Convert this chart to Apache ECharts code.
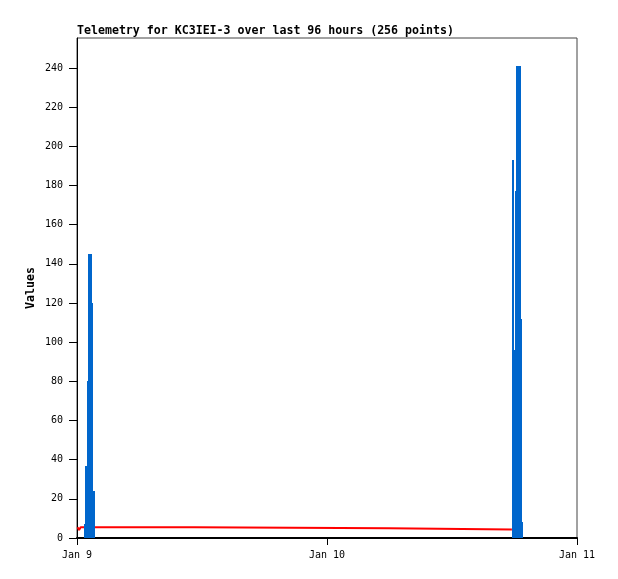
<!DOCTYPE html>
<html>
<head>
<meta charset="utf-8">
<script src="https://cdn.jsdelivr.net/npm/echarts@6/dist/echarts.min.js"></script>
<style>html,body{margin:0;padding:0;background:#fff}#c{width:618px;height:579px}</style>
</head>
<body>
<div id="c"></div>
<script>
// Times are minutes after Jan 9 00:00
const barStart = [39, 46, 59, 63, 86, 92, 2504, 2517, 2523, 2529, 2556, 2562];
const barEnd   = [46, 59, 63, 86, 92, 104, 2517, 2523, 2529, 2556, 2562, 2571];
const barValue = [7, 37, 80, 145, 120, 24, 193, 96, 177, 241, 112, 8];

// Red trace (held values, with the time each level starts and ends)
const lineTimes  = [3, 12, 12, 21, 21, 674, 674, 1795, 1795, 2505];
const lineValues = [5.5, 5.5, 4.1, 4.1, 5.5, 5.5, 5.0, 5.0, 4.4, 4.4];

const yTicks = [0, 20, 40, 60, 80, 100, 120, 140, 160, 180, 200, 220, 240];
const xTickLabels = ['Jan 9', 'Jan 10', 'Jan 11'];
const titleText = 'Telemetry for KC3IEI-3 over last 96 hours (256 points)';
const yName = 'Values';

const T0 = Date.UTC(2024, 0, 9);
const DAY = 86400000;
const toMs = m => T0 + m * 60000;

const barData = barStart.map((s, i) => [toMs(s), toMs(barEnd[i]), barValue[i]]);
const lineData = lineTimes.map((t, i) => [toMs(t), lineValues[i]]);

const mono = 'DejaVu Sans Mono';
const chart = echarts.init(document.getElementById('c'), null, {renderer: 'canvas'});
chart.setOption({
  animation: false,
  backgroundColor: '#fff',
  title: {
    text: titleText, left: 77, top: 25, padding: 0,
    textStyle: {fontFamily: mono, fontSize: 11.6, fontWeight: 'bold', color: '#000'}
  },
  grid: {left: 77, top: 38, right: 41, bottom: 41, show: true, borderColor: '#444', borderWidth: 1},
  xAxis: {
    type: 'value', min: T0, max: T0 + 2 * DAY, interval: DAY,
    axisLine: {show: true, onZero: false, lineStyle: {color: '#000', width: 2}},
    axisTick: {show: true, length: 7, lineStyle: {color: '#000'}},
    splitLine: {show: false},
    axisLabel: {
      margin: 12, fontFamily: mono, fontSize: 10, color: '#000',
      formatter: v => xTickLabels[Math.round((v - T0) / DAY)] || ''
    }
  },
  yAxis: {
    type: 'value', min: 0, max: 255.3,
    name: yName, nameLocation: 'middle', nameGap: 40, nameRotate: 90, nameMoveOverlap: false,
    nameTextStyle: {fontFamily: mono, fontSize: 11.6, fontWeight: 'bold', color: '#000'},
    axisLine: {show: true, lineStyle: {color: '#000', width: 1}},
    axisTick: {show: true, length: 8, customValues: yTicks, lineStyle: {color: '#000'}},
    splitLine: {show: false},
    axisLabel: {margin: 14, fontFamily: mono, fontSize: 10, color: '#000', customValues: yTicks}
  },
  series: [
    {
      type: 'line', data: lineData, showSymbol: false, symbol: 'none',
      lineStyle: {color: '#ff0000', width: 2}, z: 2
    },
    {
      type: 'custom', z: 3,
      encode: {x: [0, 1], y: 2},
      data: barData,
      renderItem: (params, api) => {
        const p1 = api.coord([api.value(0), api.value(2)]);
        const p2 = api.coord([api.value(1), 0]);
        const x1 = Math.round(p1[0]), x2 = Math.round(p2[0]);
        const y1 = Math.round(p1[1]), y2 = Math.round(p2[1]);
        return {
          type: 'rect',
          shape: {x: x1, y: y1, width: Math.max(1, x2 - x1), height: y2 - y1},
          style: {fill: '#0066cc'}
        };
      }
    }
  ]
});
</script>
</body>
</html>
